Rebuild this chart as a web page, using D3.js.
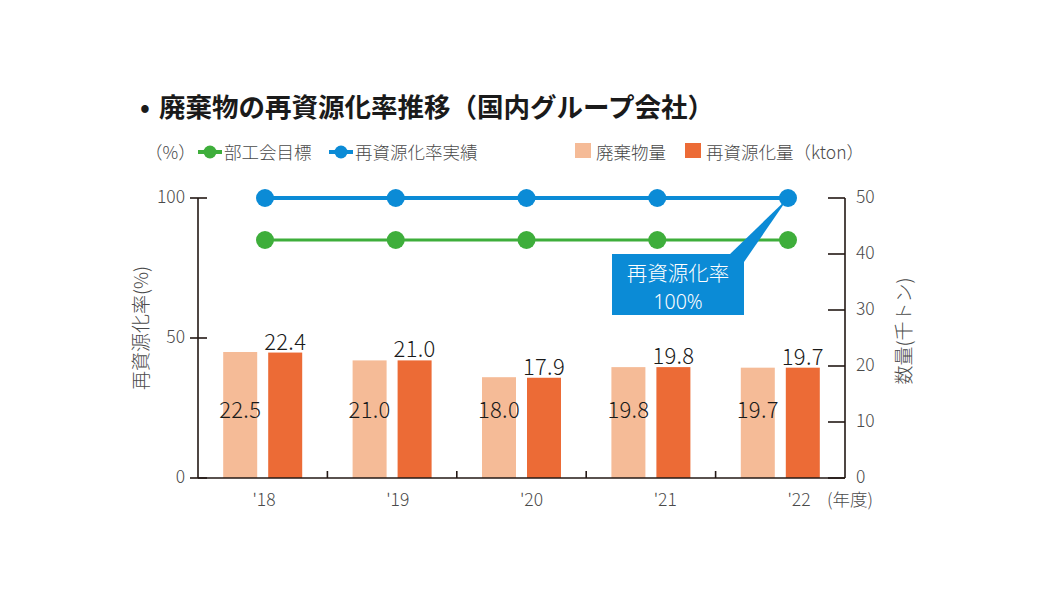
<!DOCTYPE html>
<html><head><meta charset="utf-8">
<script src="https://cdn.jsdelivr.net/npm/d3@7"></script>
<style>
html,body{margin:0;padding:0;background:#fff;}
svg{display:block;}
</style></head>
<body>
<svg id="c" width="1050" height="590" font-family="'Noto Sans CJK JP','Noto Sans',sans-serif" font-weight="300"></svg>
<script>
// ---- data ----
const years = ["'18", "'19", "'20", "'21", "'22"];
const wasteAmount = [22.5, 21.0, 18.0, 19.8, 19.7];      // 廃棄物量 (kton)
const recycledAmount = [22.4, 21.0, 17.9, 19.8, 19.7];   // 再資源化量 (kton)
const targetRate = [85, 85, 85, 85, 85];                  // 部工会目標 (%)
const actualRate = [100, 100, 100, 100, 100];             // 再資源化率実績 (%)
const leftTicks = [0, 50, 100];
const rightTicks = [0, 10, 20, 30, 40, 50];

const title = "廃棄物の再資源化率推移（国内グループ会社）";
const colors = {waste:"#f5bb97", recycled:"#ec6b36", target:"#3eae3b", actual:"#0b8bd6", text:"#1a1a1a", axis:"#231815", tick:"#4a4a4a"};

const svg = d3.select("#c");
const x0 = 198, x1 = 845, yBase = 478, yTop = 198;

const yL = d3.scaleLinear().domain([0,100]).range([yBase, yTop]);
const yR = d3.scaleLinear().domain([0,50]).range([yBase, yTop]);
const xBand = d3.scaleBand().domain(years).range([x0, x1]);
const xSub = d3.scaleBand().domain(["waste","recycled"]).range([-39.5, 39.5]).paddingInner(0.2444);
const xLine = d3.scalePoint().domain(years).range([265, 788]);
const xLabel = d3.scalePoint().domain(years).range([264, 799]);
const cx = d => xBand(d) + xBand.bandwidth()/2;

// title
svg.append("text").attr("x",140).attr("y",117).attr("font-size",26).attr("font-weight",700).attr("fill",colors.text).text("•");
svg.append("text").attr("x",159).attr("y",117).attr("font-size",26.5).attr("font-weight",700).attr("fill",colors.text).text(title);

// legend
const lg = svg.append("g").attr("font-size",17.5).attr("fill",colors.tick);
lg.append("text").attr("x",145).attr("y",159).text("（%）");
function lineKey(xs, color, label){
  lg.append("line").attr("x1",xs).attr("x2",xs+24).attr("y1",152).attr("y2",152).attr("stroke",color).attr("stroke-width",4);
  lg.append("circle").attr("cx",xs+12).attr("cy",152).attr("r",6.5).attr("fill",color);
  lg.append("text").attr("x",xs+26).attr("y",159).text(label);
}
lineKey(198, colors.target, "部工会目標");
lineKey(329, colors.actual, "再資源化率実績");
lg.append("rect").attr("x",575).attr("y",143).attr("width",16).attr("height",15).attr("fill",colors.waste);
lg.append("text").attr("x",596).attr("y",159).text("廃棄物量");
lg.append("rect").attr("x",685).attr("y",143).attr("width",16).attr("height",15).attr("fill",colors.recycled);
lg.append("text").attr("x",706).attr("y",159).text("再資源化量（kton）");

// bars
const bars = svg.append("g");
years.forEach((yr,i)=>{
  const c = cx(yr);
  bars.append("rect").attr("x", c + xSub("waste")).attr("width", xSub.bandwidth())
    .attr("y", yR(wasteAmount[i])).attr("height", yBase - yR(wasteAmount[i])).attr("fill", colors.waste);
  bars.append("rect").attr("x", c + xSub("recycled")).attr("width", xSub.bandwidth())
    .attr("y", yR(recycledAmount[i])).attr("height", yBase - yR(recycledAmount[i])).attr("fill", colors.recycled);
});

// value labels
const vl = svg.append("g").attr("font-size",22).attr("fill",colors.text).attr("text-anchor","middle").attr("letter-spacing",0.3);
years.forEach((yr,i)=>{
  const c = cx(yr);
  vl.append("text").attr("x", c + xSub("waste") + xSub.bandwidth()/2).attr("y", 418).text(wasteAmount[i].toFixed(1));
  vl.append("text").attr("x", c + xSub("recycled") + xSub.bandwidth()/2).attr("y", yR(recycledAmount[i]) - 3).text(recycledAmount[i].toFixed(1));
});

// axes
const ax = svg.append("g").attr("stroke",colors.axis).attr("stroke-width",1.6).attr("fill","none");
ax.append("line").attr("x1",x0).attr("x2",x0).attr("y1",yTop).attr("y2",yBase);
ax.append("line").attr("x1",x1).attr("x2",x1).attr("y1",yTop).attr("y2",yBase);
ax.append("line").attr("x1",x0).attr("x2",x1).attr("y1",yBase).attr("y2",yBase);
leftTicks.forEach(t=>ax.append("line").attr("x1",x0-8).attr("x2",x0+9).attr("y1",yL(t)).attr("y2",yL(t)));
rightTicks.forEach(t=>ax.append("line").attr("x1",x1-17).attr("x2",x1).attr("y1",yR(t)).attr("y2",yR(t)));
years.slice(1).forEach(yr=>ax.append("line").attr("x1",xBand(yr)).attr("x2",xBand(yr)).attr("y1",yBase-7).attr("y2",yBase));

const tl = svg.append("g").attr("font-size",17.5).attr("fill",colors.tick);
leftTicks.forEach(t=>tl.append("text").attr("x",185).attr("y",yL(t)).attr("dy","0.3em").attr("text-anchor","end").text(t));
rightTicks.forEach(t=>tl.append("text").attr("x",856).attr("y",yR(t)).attr("dy","0.3em").attr("text-anchor","start").text(t));
years.forEach(yr=>tl.append("text").attr("x",xLabel(yr)).attr("y",506).attr("text-anchor","middle").text(yr));
tl.append("text").attr("x",827).attr("y",506).text("(年度)");

// axis titles
svg.append("text").attr("transform","translate(148,328) rotate(-90)").attr("text-anchor","middle").attr("font-size",19).attr("fill",colors.tick).text("再資源化率(%)");
svg.append("text").attr("transform","translate(911,331) rotate(-90)").attr("text-anchor","middle").attr("font-size",19).attr("fill",colors.tick).text("数量(千トン)");

// lines
function series(vals, color, w){
  const pts = years.map((yr,i)=>[xLine(yr), yL(vals[i])]);
  svg.append("path").attr("d", d3.line()(pts)).attr("stroke",color).attr("stroke-width",w).attr("fill","none");
  pts.forEach(p=>svg.append("circle").attr("cx",p[0]).attr("cy",p[1]).attr("r",9).attr("fill",color));
}
series(targetRate, colors.target, 3);
series(actualRate, colors.actual, 4);

// callout
const tip = [xLine(years[4]), yL(actualRate[4])];
svg.append("polygon").attr("points", [[729,255],[744,262],tip].map(p=>p.join(",")).join(" ")).attr("fill",colors.actual);
svg.append("rect").attr("x",612).attr("y",254).attr("width",132).attr("height",61).attr("fill",colors.actual);
svg.append("text").attr("x",678).attr("y",281).attr("text-anchor","middle").attr("font-size",20.5).attr("fill","#fff").text("再資源化率");
svg.append("text").attr("x",678).attr("y",309).attr("text-anchor","middle").attr("font-size",19.5).attr("font-family","'Noto Sans',sans-serif").attr("fill","#fff").text("100%");
</script>
</body></html>
